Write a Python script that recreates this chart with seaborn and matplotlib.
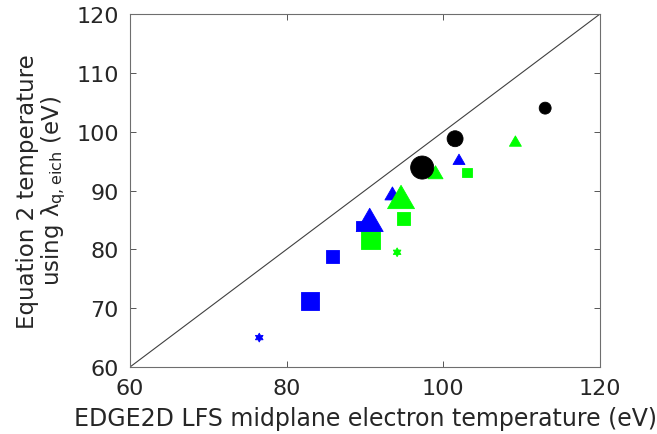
import numpy as np
import pandas as pd
import matplotlib
matplotlib.use("Agg")
import matplotlib.pyplot as plt
from matplotlib.path import Path
import seaborn as sns

# ---- data ----
edge2d_te = [89.4, 85.9, 83.0, 103.0, 94.9, 90.7,
             102.0, 93.5, 90.6, 109.2, 99.0, 94.6,
             113.0, 101.5, 97.3, 94.1, 76.5]
eq2_te = [84.1, 78.8, 71.2, 93.1, 85.2, 81.6,
          95.3, 89.5, 85.0, 98.4, 93.1, 88.9,
          104.0, 98.8, 93.9, 79.5, 65.0]
colour_group = ["blue", "blue", "blue", "green", "green", "green",
                "blue", "blue", "blue", "green", "green", "green",
                "black", "black", "black", "green", "blue"]
shape_group = ["square", "square", "square", "square", "square", "square",
               "triangle", "triangle", "triangle", "triangle", "triangle", "triangle",
               "circle", "circle", "circle", "hexagram", "hexagram"]
size_group = ["small", "medium", "large", "small", "medium", "large",
              "small", "medium", "large", "small", "medium", "large",
              "small", "medium", "large", "small", "small"]

x_ticks = [60, 80, 100, 120]
y_ticks = [60, 70, 80, 90, 100, 110, 120]

# ---- styles ----
palette = {"black": "#000000", "blue": "#0000ff", "green": "#00ff00"}

tri = Path([(-1, -0.866), (1, -0.866), (0, 0.866), (-1, -0.866)],
           [Path.MOVETO, Path.LINETO, Path.LINETO, Path.CLOSEPOLY])
ang = np.deg2rad(90 + np.arange(12) * 30)
rad = np.where(np.arange(12) % 2 == 0, 1.0, 0.577)
hv = np.column_stack([rad * np.cos(ang), rad * np.sin(ang)])
hv = np.vstack([hv, hv[:1]])
hexa = Path(hv, [Path.MOVETO] + [Path.LINETO] * 11 + [Path.CLOSEPOLY])
markers = {"circle": "o", "triangle": tri, "square": "s", "hexagram": hexa}

marker_area = {
    ("circle", "small"): 74, ("circle", "medium"): 132, ("circle", "large"): 276,
    ("triangle", "small"): 74, ("triangle", "medium"): 117, ("triangle", "large"): 376,
    ("square", "small"): 46, ("square", "medium"): 88, ("square", "large"): 177,
    ("hexagram", "small"): 40,
}

df = pd.DataFrame({"x": edge2d_te, "y": eq2_te, "colour": colour_group,
                   "shape": shape_group, "size": size_group})
df["area"] = [marker_area[(s, z)] for s, z in zip(df["shape"], df["size"])]

sns.set_style("white")
plt.rcParams["font.family"] = ["DejaVu Sans"]
plt.rcParams["mathtext.fontset"] = "dejavusans"

fig = plt.figure(figsize=(6.57, 4.35), dpi=100)
ax = fig.add_axes([130 / 657, (435 - 368) / 435, 470 / 657, (368 - 15) / 435])

ax.plot([60, 120], [60, 120], color="#404040", lw=0.8, zorder=1)

sns.scatterplot(data=df, x="x", y="y", hue="colour", style="shape", size="area",
                palette=palette, markers=markers,
                sizes={a: a for a in df["area"].unique()},
                linewidth=0.6, edgecolor="face", legend=False, ax=ax, zorder=3)

ax.set_xlim(60, 120)
ax.set_ylim(60, 120)
ax.set_xticks(x_ticks)
ax.set_yticks(y_ticks)
ax.tick_params(direction="in", length=4.5, width=0.7, color="#555555",
               labelsize=16, labelcolor="#262626", top=True, right=True,
               bottom=True, left=True)
ax.tick_params(axis="x", pad=8)
ax.tick_params(axis="y", pad=8)
for sp in ax.spines.values():
    sp.set_visible(True)
    sp.set_color("#6e6e6e")
    sp.set_linewidth(0.8)

ax.set_xlabel("EDGE2D LFS midplane electron temperature (eV)", fontsize=17,
              color="#262626", labelpad=6)
ax.set_ylabel("Equation 2 temperature\nusing λ$_{\\mathrm{q,eich}}$ (eV)",
              fontsize=16.5, color="#262626", labelpad=6, linespacing=1.05)

fig.savefig("out.png", dpi=100)
